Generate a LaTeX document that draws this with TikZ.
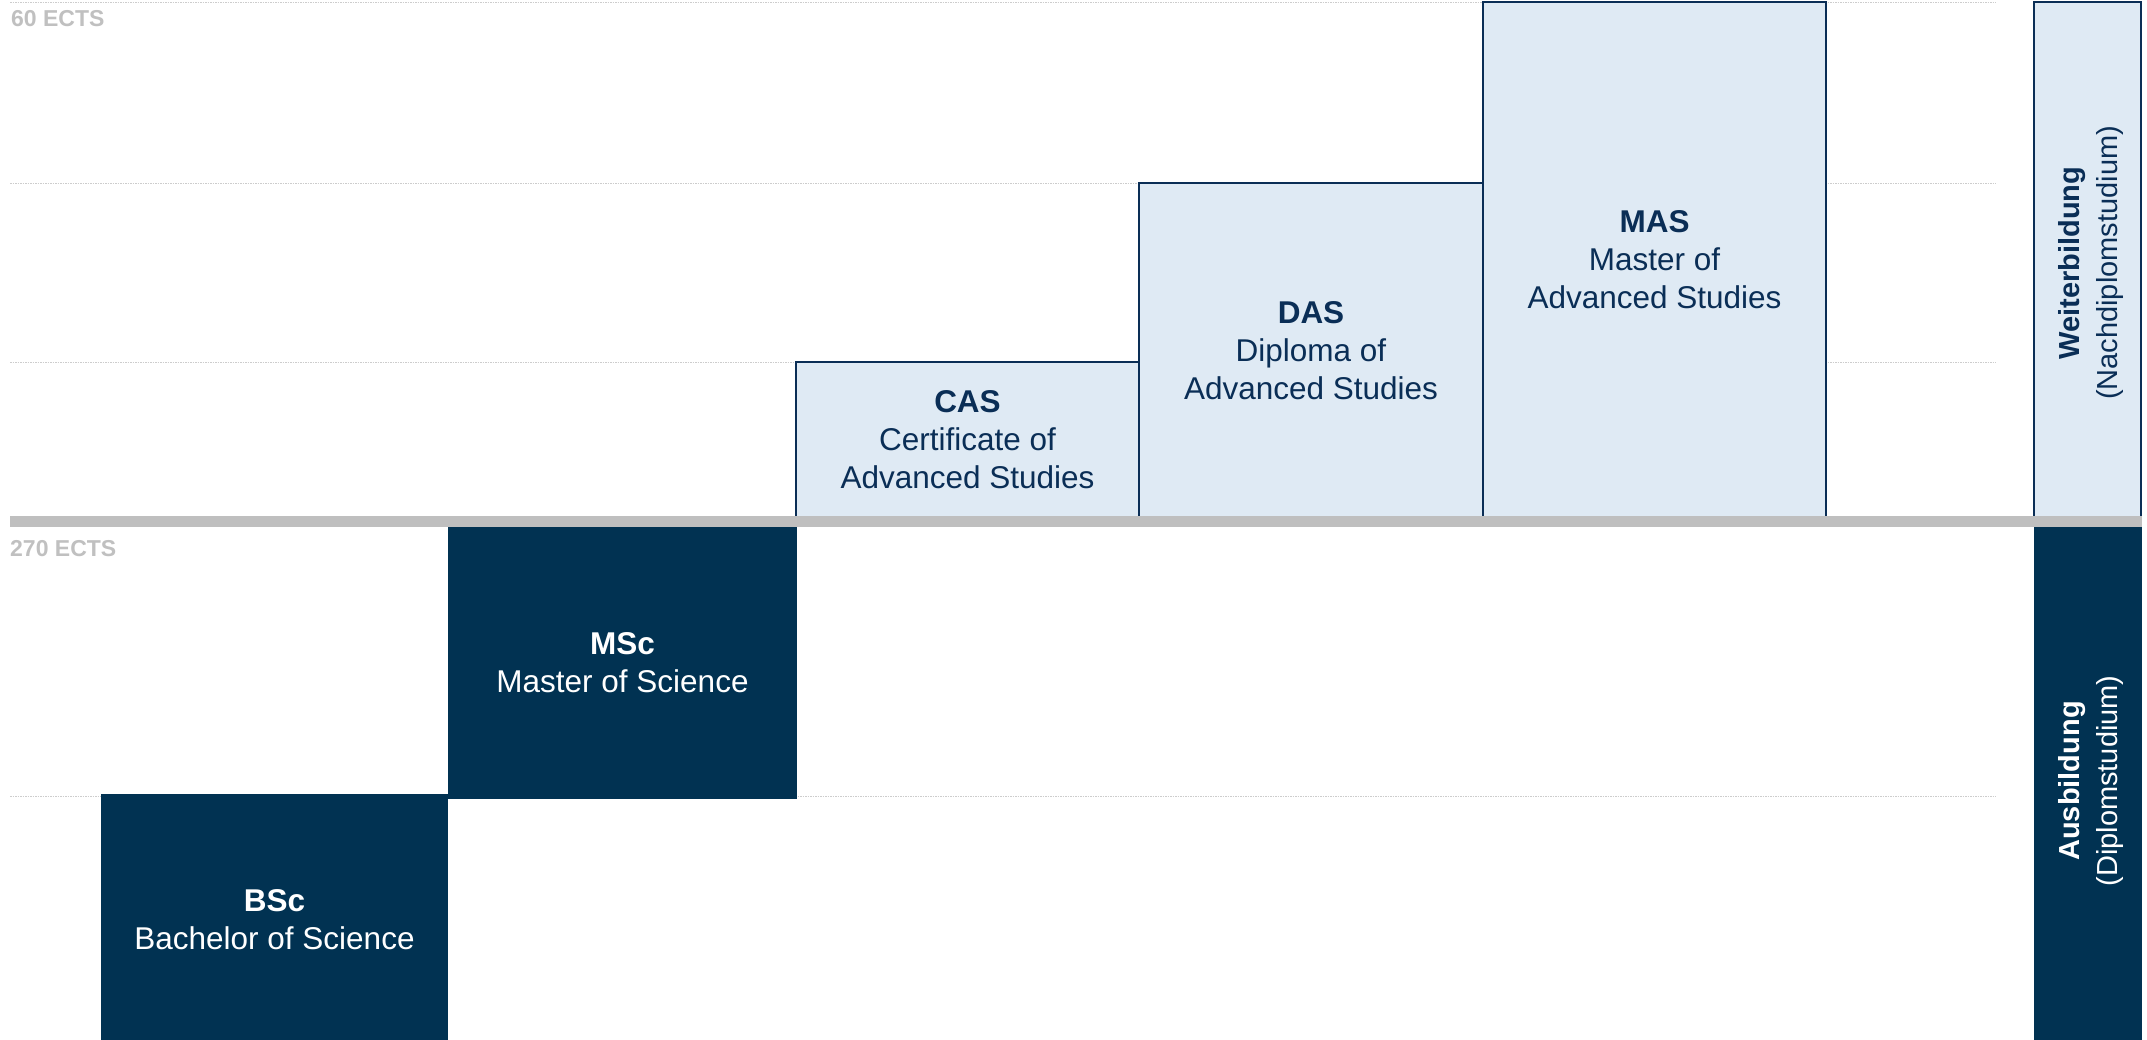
\documentclass[tikz,border=0pt]{standalone}
\usepackage{fontspec}
\setmainfont{Liberation Sans}
\definecolor{navy}{RGB}{10,46,86}
\definecolor{darkfill}{RGB}{1,50,82}
\definecolor{lightfill}{RGB}{223,234,244}
\definecolor{bandgray}{RGB}{191,191,191}
\definecolor{gridgray}{RGB}{205,205,205}
\definecolor{labelgray}{RGB}{192,192,192}
\tikzset{
  gridline/.style={draw=gridgray, line width=1pt, dash pattern=on 1.5pt off 1pt},
  lightbox/.style={draw=navy, line width=2.5pt, fill=lightfill, text=navy, align=center,
    inner sep=0pt, font=\fontsize{31.5}{38}\selectfont},
  darkbox/.style={draw=none, fill=darkfill, text=white, align=center,
    inner sep=0pt, font=\fontsize{31.5}{38}\selectfont},
  sidetext/.style={rotate=90, align=center, inner sep=0pt, font=\fontsize{29}{38}\selectfont},
  ectslabel/.style={anchor=base west, inner sep=0pt, text=labelgray, font=\bfseries\fontsize{23}{27}\selectfont}
}
\begin{document}
\begin{tikzpicture}[x=1pt,y=-1pt]
\useasboundingbox (0,0) rectangle (2147,1040);
\fill[white] (0,0) rectangle (2147,1040);
% grid lines
\coordinate (g1a) at (10,3);     \coordinate (g1b) at (1996,3);
\coordinate (g2a) at (10,183.5); \coordinate (g2b) at (1996,183.5);
\coordinate (g3a) at (10,363);   \coordinate (g3b) at (1996,363);
\coordinate (g4a) at (10,796);   \coordinate (g4b) at (1996,796);
\draw[gridline] (g1a) -- (g1b);
\draw[gridline] (g2a) -- (g2b);
\draw[gridline] (g3a) -- (g3b);
\draw[gridline] (g4a) -- (g4b);
% upper boxes
\node[lightbox, minimum width=343pt, minimum height=156pt] (cas) at (967.5,440)
  {\textbf{CAS}\\Certificate of\\Advanced Studies};
\node[lightbox, minimum width=344pt, minimum height=335pt] (das) at (1311,350.5)
  {\textbf{DAS}\\Diploma of\\Advanced Studies};
\node[lightbox, minimum width=343pt, minimum height=516pt] (mas) at (1654.5,260)
  {\textbf{MAS}\\Master of\\Advanced Studies};
\node[lightbox, minimum width=107pt, minimum height=516pt] (wb) at (2087.5,260) {};
\node[sidetext, text=navy] (wbt) at (2091,263) {\textbf{Weiterbildung}\\(Nachdiplomstudium)};
% lower boxes
\node[darkbox, minimum width=347pt, minimum height=252pt] (bsc) at (274.5,920)
  {\textbf{BSc}\\Bachelor of Science};
\node[darkbox, minimum width=349pt, minimum height=272pt] (msc) at (622.5,663)
  {\textbf{MSc}\\Master of Science};
\node[darkbox, minimum width=108pt, minimum height=519pt] (ab) at (2088,786.5) {};
\node[sidetext, text=white] (abt) at (2091,781) {\textbf{Ausbildung}\\(Diplomstudium)};
% band
\fill[bandgray] (10,516) rectangle (2142,527);
% labels
\node[ectslabel] (l60) at (11,26.8) {60 ECTS};
\node[ectslabel] (l270) at (10,556.7) {270 ECTS};
\end{tikzpicture}
\end{document}
